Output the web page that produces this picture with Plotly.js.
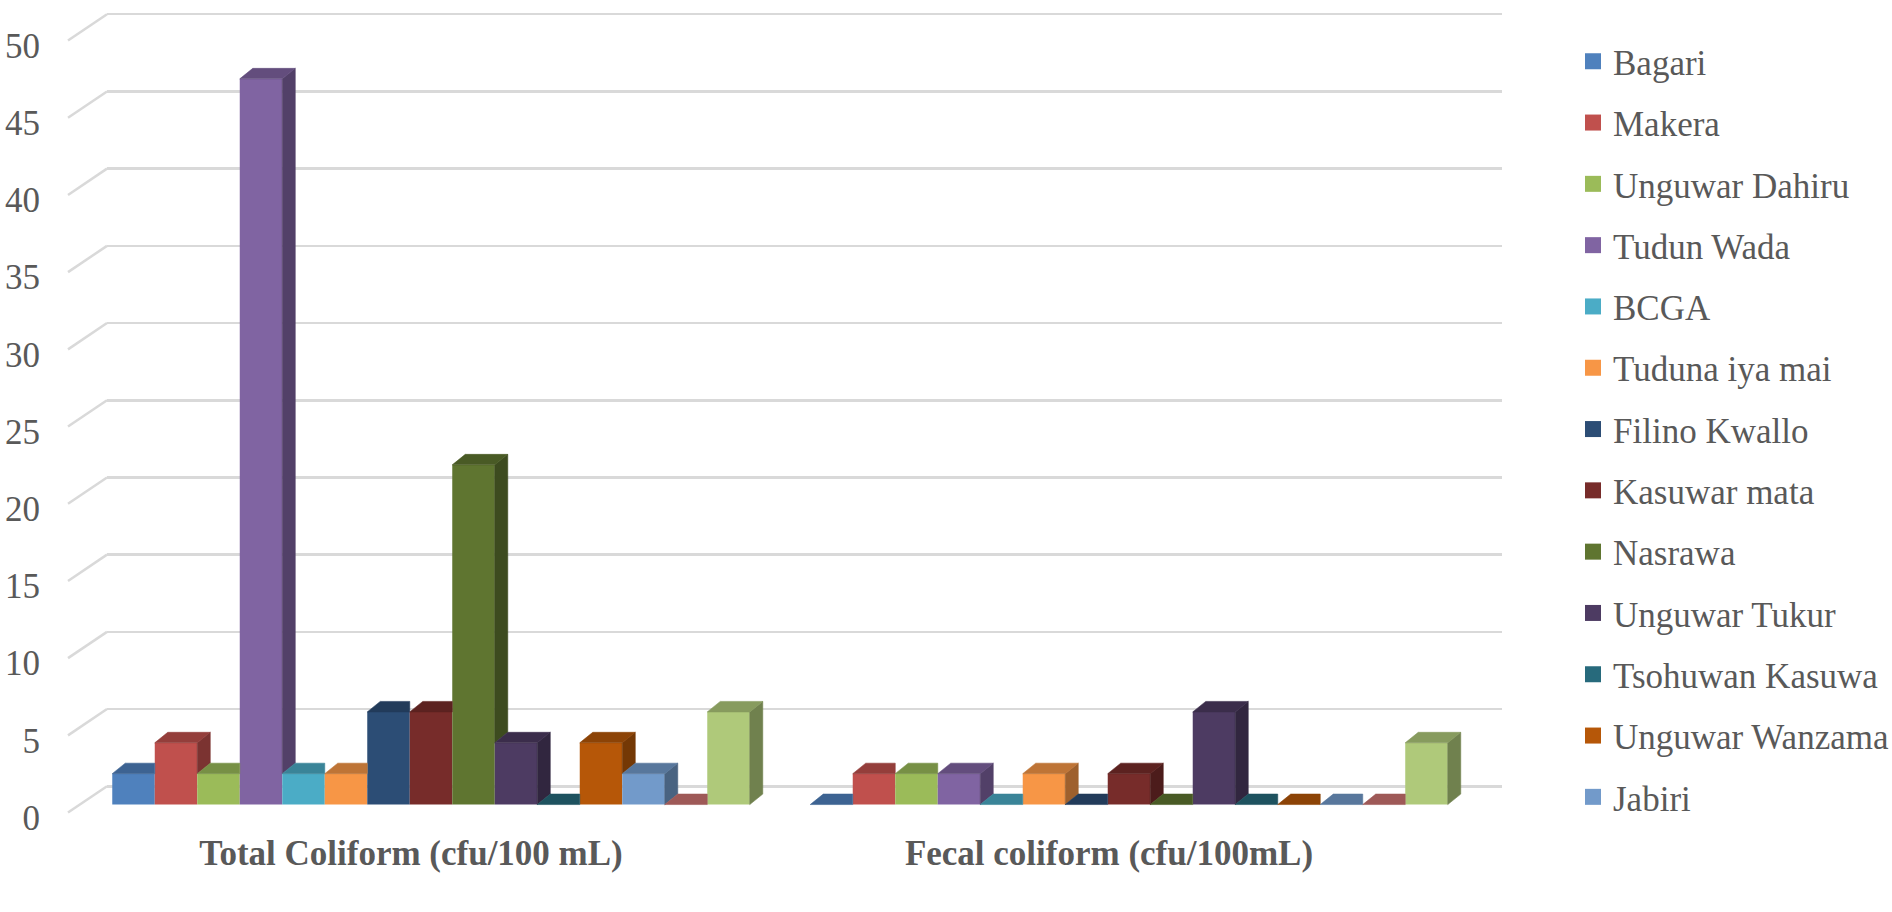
<!DOCTYPE html>
<html>
<head>
<meta charset="utf-8">
<script src="https://cdn.plot.ly/plotly-3.0.1.min.js"></script>
<style>
html,body{margin:0;padding:0;background:#ffffff;}
#chart{width:1892px;height:912px;}
</style>
</head>
<body>
<div id="chart"></div>
<script>
// ---------------- data ----------------
const categories = ["Total Coliform (cfu/100 mL)", "Fecal coliform (cfu/100mL)"];
const sites = ["Bagari", "Makera", "Unguwar Dahiru", "Tudun Wada", "BCGA", "Tuduna iya mai",
  "Filino Kwallo", "Kasuwar mata", "Nasrawa", "Unguwar Tukur", "Tsohuwan Kasuwa",
  "Unguwar Wanzama", "Jabiri", "", ""];
const shownInLegend = 13; // the last two legend entries are cut off in the original
const totalColiform = [2, 4, 2, 47, 2, 2, 6, 6, 22, 4, 0, 4, 2, 0, 6];
const fecalColiform = [0, 2, 2, 2, 0, 2, 0, 2, 0, 6, 0, 0, 0, 0, 4];
const yTickValues = [0, 5, 10, 15, 20, 25, 30, 35, 40, 45, 50];
const siteColors = ["#4F81BD", "#C0504D", "#9BBB59", "#8064A2", "#4BACC6", "#F79646",
  "#2C4D75", "#772C2A", "#5F7530", "#4D3B62", "#276A7C", "#B65708",
  "#729ACA", "#CD7371", "#AFC97A"];

// ---------------- layout geometry (pixels) ----------------
const W = 1892, H = 912;
const PLOT_L = 107, PLOT_R = 1502, PLOT_T = 6, PLOT_B = 820.5;
const pxPerY = 15.45;
const Y_MIN = -1, Y_MAX = Y_MIN + (PLOT_B - PLOT_T) / pxPerY;
const X_MIN = -0.4642, X_MAX = 1.5344;
const pxPerX = (PLOT_R - PLOT_L) / (X_MAX - X_MIN);
const BAR_W = 42.5 / pxPerX;           // bar width in x units
const DX = 13 / pxPerX;                // depth offset (x)
const DY = 10.5 / pxPerY;              // depth offset (y)
const BACK_SHIFT = 18.3 / pxPerY;      // back wall offset of gridlines
const nSeries = sites.length;

function shade(hex, f) {
  const n = parseInt(hex.slice(1), 16);
  const r = Math.round(((n >> 16) & 255) * f);
  const g = Math.round(((n >> 8) & 255) * f);
  const b = Math.round((n & 255) * f);
  return "rgb(" + r + "," + g + "," + b + ")";
}

const seriesValues = sites.map((s, i) => [totalColiform[i], fecalColiform[i]]);
const catPos = categories.map((c, k) => k);

const traces = [];
// front faces: real bar traces
for (let i = 0; i < nSeries; i++) {
  traces.push({
    type: "bar",
    name: sites[i],
    x: catPos,
    y: seriesValues[i],
    width: BAR_W,
    offset: -nSeries * BAR_W / 2 + i * BAR_W,
    marker: {color: siteColors[i], line: {width: 0}},
    showlegend: false,
    hoverinfo: "y+name"
  });
}
// 3D top and side faces derived from the same values
for (let i = 0; i < nSeries; i++) {
  const topX = [], topY = [], sideX = [], sideY = [];
  catPos.forEach((c, k) => {
    const h = seriesValues[i][k];
    const hasNext = i < nSeries - 1;
    const next = hasNext ? seriesValues[i + 1][k] : 0;
    const xl = c - nSeries * BAR_W / 2 + i * BAR_W;
    const xr = xl + BAR_W;
    if (hasNext && next >= h) {
      topX.push(xl, xl + DX, xr, xr, xl, null);
      topY.push(h, h + DY, h + DY, h, h, null);
    } else {
      topX.push(xl, xl + DX, xr + DX, xr, xl, null);
      topY.push(h, h + DY, h + DY, h, h, null);
    }
    const base = hasNext ? Math.min(next, h) : 0;
    if (h > base) {
      sideX.push(xr, xr + DX, xr + DX, xr, xr, null);
      sideY.push(base, base + DY, h + DY, h, base, null);
    }
  });
  traces.push({
    type: "scatter", mode: "lines", x: sideX, y: sideY, fill: "toself",
    fillcolor: shade(siteColors[i], 0.64), line: {width: 0.6, color: shade(siteColors[i], 0.64)},
    showlegend: false, hoverinfo: "skip"
  });
  traces.push({
    type: "scatter", mode: "lines", x: topX, y: topY, fill: "toself",
    fillcolor: shade(siteColors[i], 0.77), line: {width: 0.6, color: shade(siteColors[i], 0.77)},
    showlegend: false, hoverinfo: "skip"
  });
}
// legend entries (attached to the back-wall grid axis)
for (let i = 0; i < shownInLegend; i++) {
  traces.push({
    type: "scatter", mode: "markers", x: [null], y: [null], yaxis: "y2",
    name: sites[i], legendgroup: "g" + i,
    marker: {symbol: "square", size: 16, color: siteColors[i]},
    showlegend: true, hoverinfo: "skip"
  });
}

const shapes = yTickValues.map(v => ({
  type: "line", xref: "paper", yref: "y", layer: "below",
  x0: (68 - PLOT_L) / (PLOT_R - PLOT_L), x1: 0,
  y0: v - 8 / pxPerY, y1: v + BACK_SHIFT,
  line: {color: "#D9D9D9", width: 2.5}
}));

const layout = {
  width: W, height: H,
  paper_bgcolor: "#ffffff", plot_bgcolor: "rgba(0,0,0,0)",
  margin: {l: PLOT_L, r: W - PLOT_R, t: PLOT_T, b: H - PLOT_B, pad: 0, autoexpand: false},
  barmode: "overlay",
  showlegend: true,
  xaxis: {
    range: [X_MIN, X_MAX], tickvals: catPos, ticktext: categories,
    showgrid: false, zeroline: false, showline: false, ticks: "",
    tickfont: {family: "Liberation Serif", size: 35, color: "#595959", weight: "bold"},
    ticklabelshift: -20, ticklabelstandoff: 9, fixedrange: true
  },
  yaxis: {
    range: [Y_MIN, Y_MAX], tickvals: yTickValues, ticktext: yTickValues.map(String),
    showgrid: false, zeroline: false, showline: false, ticks: "",
    tickfont: {family: "Liberation Serif", size: 35, color: "#595959"},
    ticklabelshift: 13, ticklabelstandoff: 66, fixedrange: true
  },
  yaxis2: {
    overlaying: "y", side: "left",
    range: [Y_MIN - BACK_SHIFT, Y_MAX - BACK_SHIFT], tickvals: yTickValues,
    showticklabels: false, showgrid: true, gridcolor: "#D9D9D9", gridwidth: 2.5,
    zeroline: false, showline: false, ticks: "", fixedrange: true
  },
  legend: {
    xref: "container", yref: "container",
    x: 1573 / W, y: 1 - 32 / H, xanchor: "left", yanchor: "top",
    maxheight: 900,
    font: {family: "Liberation Serif", size: 35, color: "#595959"},
    tracegroupgap: 12.8, itemsizing: "trace",
    bgcolor: "rgba(0,0,0,0)", borderwidth: 0
  },
  shapes: shapes
};

Plotly.newPlot("chart", traces, layout, {displayModeBar: false, staticPlot: true});
</script>
</body>
</html>
